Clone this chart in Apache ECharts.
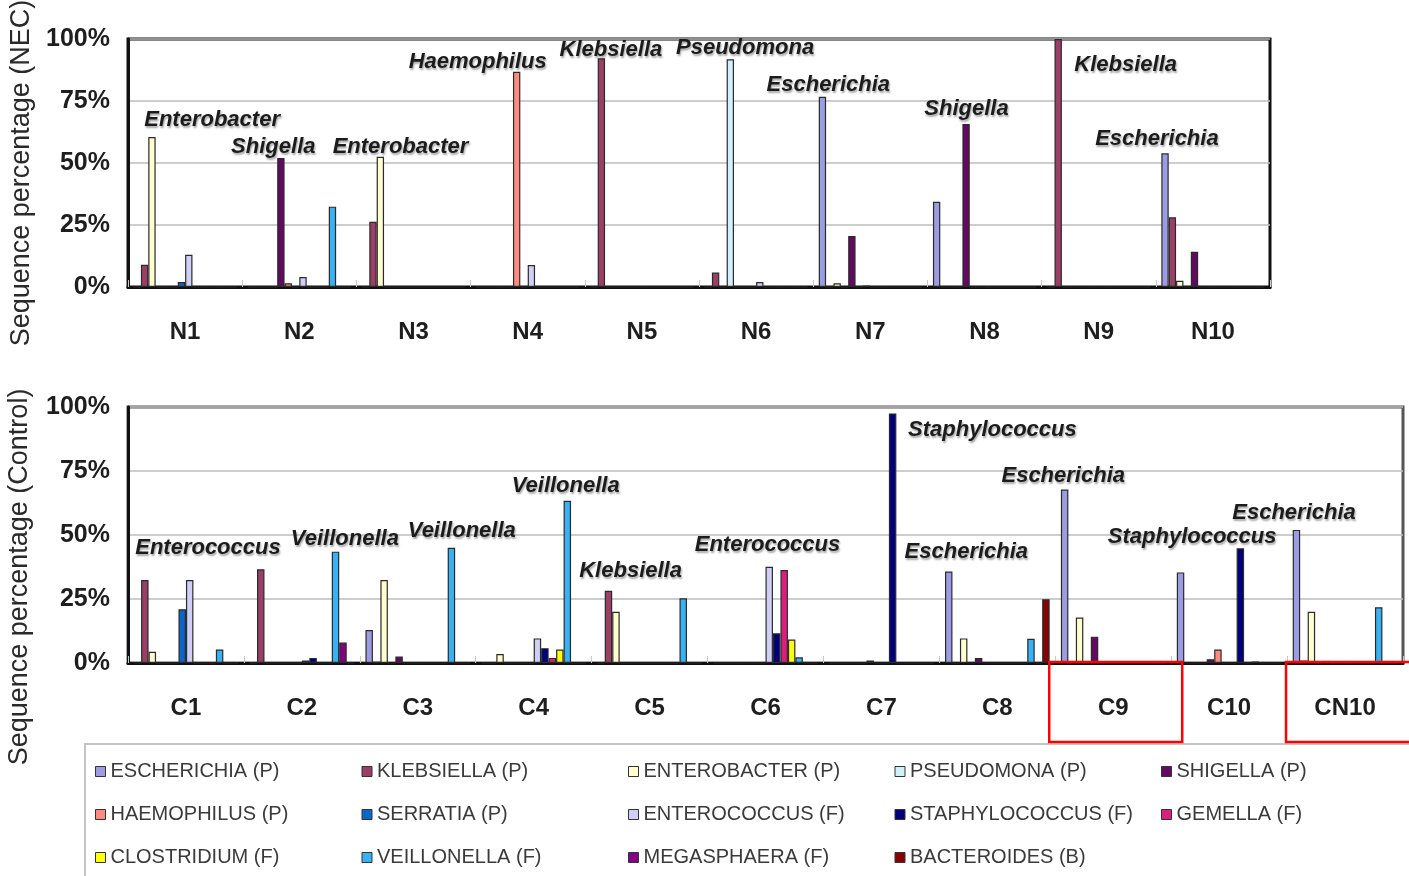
<!DOCTYPE html>
<html>
<head>
<meta charset="utf-8">
<script src="https://cdn.jsdelivr.net/npm/echarts@6/dist/echarts.min.js"></script>
<style>
  html, body { margin: 0; padding: 0; background: #ffffff; }
  #chart { width: 1409px; height: 876px; }
</style>
</head>
<body>
<div id="chart"></div>
<script>
// ---- categories ----
const genera = [
  'ESCHERICHIA (P)', 'KLEBSIELLA (P)', 'ENTEROBACTER (P)', 'PSEUDOMONA (P)', 'SHIGELLA (P)',
  'HAEMOPHILUS (P)', 'SERRATIA (P)', 'ENTEROCOCCUS (F)', 'STAPHYLOCOCCUS (F)', 'GEMELLA (F)',
  'CLOSTRIDIUM (F)', 'VEILLONELLA (F)', 'MEGASPHAERA (F)', 'BACTEROIDES (B)'
];
const necSamples = ['N1', 'N2', 'N3', 'N4', 'N5', 'N6', 'N7', 'N8', 'N9', 'N10'];
const controlSamples = ['C1', 'C2', 'C3', 'C4', 'C5', 'C6', 'C7', 'C8', 'C9', 'C10', 'CN10'];
const percentTicks = [0, 25, 50, 75, 100];

// ---- NEC sequence percentages (N1..N10) ----
const necEscherichia    = [0, 0, 0, 0, 0, 0, 76.7, 34.4, 0, 53.9];
const necKlebsiella     = [9, 0, 26.3, 0, 92.2, 5.8, 0, 0, 100, 28.1];
const necEnterobacter   = [60.5, 0, 52.5, 0, 0, 0, 1.5, 0, 0, 2.5];
const necPseudomona     = [0, 0, 0, 0, 0, 91.8, 0, 0, 0, 0];
const necShigella       = [0, 52, 0, 0, 0, 0, 20.6, 65.7, 0, 14.2];
const necHaemophilus    = [0, 1.5, 0, 86.8, 0, 0, 0, 0, 0, 0];
const necSerratia       = [2, 0, 0, 0, 0, 0, 0.6, 0, 0, 0];
const necEnterococcus   = [13, 4, 0, 8.9, 0, 2, 0, 0, 0, 0];
const necStaphylococcus = [0, 0, 0, 0, 0, 0, 0, 0, 0, 0];
const necGemella        = [0, 0, 0, 0, 0, 0, 0, 0, 0, 0];
const necClostridium    = [0, 0, 0, 0, 0, 0, 0, 0, 0, 0];
const necVeillonella    = [0, 32.4, 0, 0, 0, 0, 0, 0, 0, 0];
const necMegasphaera    = [0, 0, 0, 0, 0, 0, 0, 0, 0, 0];
const necBacteroides    = [0, 0, 0, 0, 0, 0, 0, 0, 0, 0];

// ---- Control sequence percentages (C1..C10, CN10) ----
const ctlEscherichia    = [0, 0, 12.9, 0, 0, 0, 0, 35.7, 67.8, 35.4, 52];
const ctlKlebsiella     = [32.4, 36.6, 0.5, 0, 28.2, 0, 0, 0, 0, 0, 1];
const ctlEnterobacter   = [4.4, 0, 32.4, 3.5, 20, 0, 0, 9.6, 17.8, 0, 20];
const ctlPseudomona     = [0, 0, 0, 0, 0, 0, 0, 0, 0, 0, 0];
const ctlShigella       = [0, 0, 2.5, 0, 0, 0, 0, 2, 10.3, 1.5, 0.8];
const ctlHaemophilus    = [0, 0, 0, 0, 0, 0, 1, 0, 0, 5.3, 0];
const ctlSerratia       = [21, 0, 0, 0, 0, 0, 0, 0, 0, 0, 0];
const ctlEnterococcus   = [32.4, 1, 0, 9.6, 0, 37.6, 0, 0, 0, 0, 0];
const ctlStaphylococcus = [0, 2, 0, 5.8, 0, 11.6, 97.5, 0, 0, 44.8, 0];
const ctlGemella        = [0, 0, 0, 2, 0, 36.3, 0, 0, 0, 0, 0];
const ctlClostridium    = [0, 0, 0, 5.3, 0, 9.2, 0, 0, 0, 0.6, 0];
const ctlVeillonella    = [5.3, 43.5, 45, 63.4, 25.3, 2.2, 0, 9.5, 0, 0, 21.8];
const ctlMegasphaera    = [0, 8, 0, 0, 0, 0, 0, 0, 0, 0, 0];
const ctlBacteroides    = [0, 0, 0, 0, 0, 0, 0, 24.9, 0, 0, 0];

// ---- dominant-genus annotations ----
const necLabelSamples = ['N1', 'N2', 'N3', 'N4', 'N5', 'N6', 'N7', 'N8', 'N9', 'N10'];
const necLabelGenera  = ['Enterobacter', 'Shigella', 'Enterobacter', 'Haemophilus', 'Klebsiella',
                         'Pseudomona', 'Escherichia', 'Shigella', 'Klebsiella', 'Escherichia'];
const ctlLabelSamples = ['C1', 'C2', 'C3', 'C4', 'C5', 'C6', 'C7', 'C8', 'C9', 'C10', 'CN10'];
const ctlLabelGenera  = ['Enterococcus', 'Veillonella', 'Veillonella', 'Veillonella', 'Klebsiella',
                         'Enterococcus', 'Staphylococcus', 'Escherichia', 'Escherichia',
                         'Staphylococcus', 'Escherichia'];
const highlightedSamples = ['C9', 'CN10'];

// ---- layout / style (pixel offsets from the bar top, per annotation) ----
const necLabelOffsets = [[27, -17], [-26, -11], [-13, -10], [-50, -10], [-31, -8],
                         [-11, -11], [-42, -12], [-18, -15], [27, 26], [-56, -14]];
const ctlLabelOffsets = [[22, -32], [43, -13], [44, -17], [32, -15], [-19, -20], [2, -22],
                         [111, 17], [-31, -20], [-50, -13], [-37, -11], [-51, -17]];
const highlightSpan = [[-64, 69], [-59, 72]];

const colors = ['#9c9ce2', '#9b3f66', '#ffffd0', '#d2f0fc', '#620a62', '#ff8a80', '#0a66c8',
                '#cfcff8', '#00007e', '#dc1f7c', '#ffff10', '#38b2f4', '#820282', '#840404'];

const necData = [necEscherichia, necKlebsiella, necEnterobacter, necPseudomona, necShigella,
  necHaemophilus, necSerratia, necEnterococcus, necStaphylococcus, necGemella, necClostridium,
  necVeillonella, necMegasphaera, necBacteroides];
const ctlData = [ctlEscherichia, ctlKlebsiella, ctlEnterobacter, ctlPseudomona, ctlShigella,
  ctlHaemophilus, ctlSerratia, ctlEnterococcus, ctlStaphylococcus, ctlGemella, ctlClostridium,
  ctlVeillonella, ctlMegasphaera, ctlBacteroides];

const FONT = '"Liberation Sans", Arial, Helvetica, sans-serif';
const chart = echarts.init(document.getElementById('chart'), null, { renderer: 'canvas' });

function xAxisFor(gridIndex, cats) {
  return {
    type: 'category', gridIndex, data: cats,
    axisLine: { show: true, lineStyle: { color: '#111', width: 3 } },
    axisTick: { show: true, inside: true, length: 7, lineStyle: { color: '#c8c8c8', width: 1 } },
    axisLabel: { margin: 33, fontFamily: FONT, fontSize: 24, fontWeight: 'bold', color: '#1e1e1e' },
    splitLine: { show: false }
  };
}
function yAxisFor(gridIndex) {
  return {
    type: 'value', gridIndex, min: 0, max: 100, interval: 25,
    axisLine: { show: true, lineStyle: { color: '#111', width: 3 } },
    axisTick: { show: false },
    axisLabel: { margin: 18, fontFamily: FONT, fontSize: 25, fontWeight: 'bold', color: '#1e1e1e',
                 formatter: v => percentTicks.includes(v) ? v + '%' : '' },
    splitLine: { show: true, lineStyle: { color: '#bdbdbd', width: 1.5 } }
  };
}

const series = [];
genera.forEach((g, i) => {
  [necData, ctlData].forEach((set, p) => {
    series.push({
      type: 'bar', name: g, xAxisIndex: p, yAxisIndex: p,
      data: set[i],
      barGap: '0%', barCategoryGap: '9.7%',
      itemStyle: { color: colors[i], borderColor: '#2a2a2a', borderWidth: 1.2 },
      emphasis: { disabled: true },
      animation: false
    });
  });
});

chart.setOption({
  animation: false,
  backgroundColor: '#ffffff',
  grid: [
    { left: 128, top: 39, width: 1142, height: 248, show: true, borderColor: '#111', borderWidth: 3 },
    { left: 128, top: 407, width: 1275, height: 256, show: true, borderColor: '#555', borderWidth: 3 }
  ],
  xAxis: [xAxisFor(0, necSamples), xAxisFor(1, controlSamples)],
  yAxis: [yAxisFor(0), yAxisFor(1)],
  legend: {
    data: genera,
    left: 85, top: 744, width: 1320,
    padding: [16, 10, 10, 10],
    borderColor: '#c4c4c4', borderWidth: 2,
    icon: 'rect', itemWidth: 10, itemHeight: 10, itemGap: 20,
    itemStyle: { borderColor: '#333', borderWidth: 1 },
    textStyle: { fontFamily: FONT, fontSize: 20, color: '#3a3a3a', width: 231, lineHeight: 23 },
    selectedMode: false
  },
  series
});

// annotation texts, anchored to the top of the named genus bar
function annotate(gridIndex, samples, names, offsets, data) {
  return samples.map((s, k) => {
    const gi = genera.findIndex(g => g.startsWith(names[k].toUpperCase()));
    const cats = gridIndex === 0 ? necSamples : controlSamples;
    const v = data[gi][cats.indexOf(s)];
    const pt = chart.convertToPixel({ gridIndex }, [s, v]);
    return {
      type: 'text', silent: true, z: 100,
      x: pt[0] + offsets[k][0], y: pt[1] + offsets[k][1],
      style: {
        text: names[k], align: 'center', verticalAlign: 'middle',
        fontFamily: FONT, fontSize: 22, fontWeight: 'bold', fontStyle: 'italic', fill: '#1c1c1c',
        textShadowColor: 'rgba(0,0,0,0.35)', textShadowBlur: 2, textShadowOffsetX: 1, textShadowOffsetY: 2
      }
    };
  });
}

const graphics = [
  ...annotate(0, necLabelSamples, necLabelGenera, necLabelOffsets, necData),
  ...annotate(1, ctlLabelSamples, ctlLabelGenera, ctlLabelOffsets, ctlData),
  {
    type: 'text', x: 22, y: 173, rotation: Math.PI / 2, silent: true,
    style: { text: 'Sequence percentage (NEC)', align: 'center', verticalAlign: 'middle',
             fontFamily: FONT, fontSize: 27, fill: '#2a2a2a' }
  },
  {
    type: 'text', x: 20, y: 577, rotation: Math.PI / 2, silent: true,
    style: { text: 'Sequence percentage (Control)', align: 'center', verticalAlign: 'middle',
             fontFamily: FONT, fontSize: 27, fill: '#2a2a2a' }
  }
];

// red frames around the highlighted control samples
highlightedSamples.forEach((s, k) => {
  const base = chart.convertToPixel({ gridIndex: 1 }, [s, 0]);
  graphics.push({
    type: 'rect', silent: true, z: 100,
    shape: { x: base[0] + highlightSpan[k][0], y: base[1] - 1,
             width: highlightSpan[k][1] - highlightSpan[k][0], height: 80 },
    style: { fill: 'none', stroke: '#ff0000', lineWidth: 2.5 }
  });
});

chart.setOption({ graphic: graphics });
</script>
</body>
</html>
